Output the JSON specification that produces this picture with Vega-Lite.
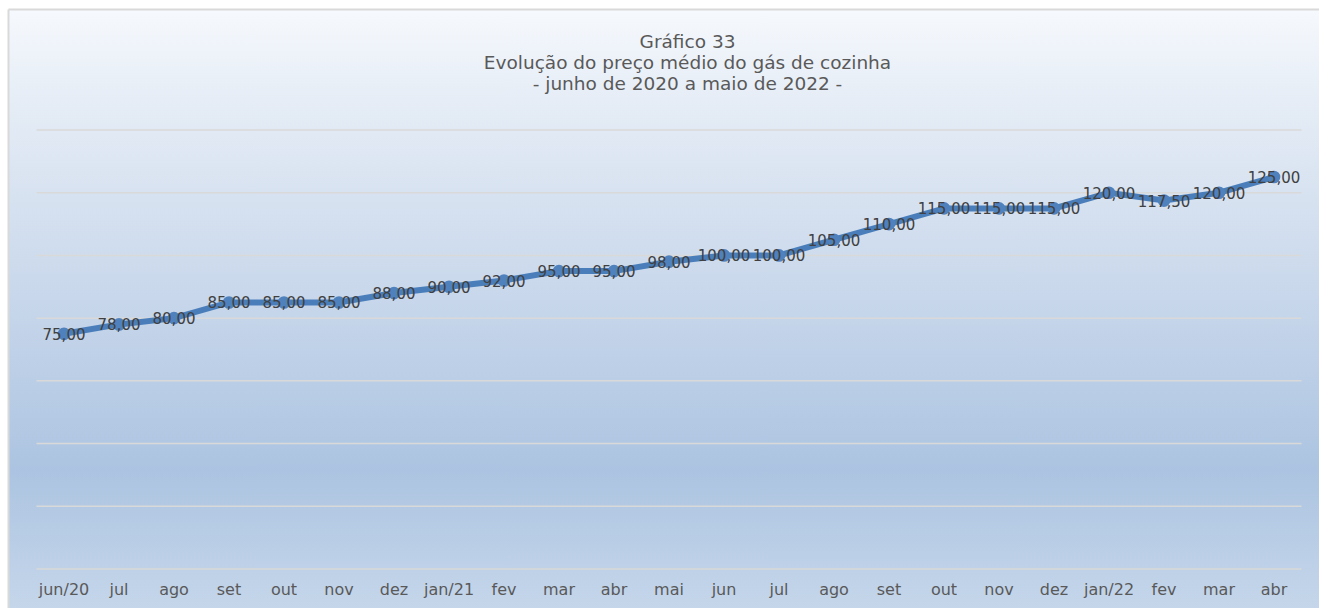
{
  "$schema": "https://vega.github.io/schema/vega-lite/v6.json",
  "width": 1311,
  "height": 599,
  "autosize": {"type": "none"},
  "padding": {"left": 8, "top": 9, "right": 0, "bottom": 0},
  "background": "white",
  "config": {
    "locale": {"number": {"decimal": ",", "thousands": ".", "grouping": [3], "currency": ["R$", ""]}},
    "font": "DejaVu Sans",
    "view": {
      "stroke": null,
      "fill": {
        "gradient": "linear",
        "x1": 0, "y1": 0, "x2": 0, "y2": 1,
        "stops": [
          {"offset": 0, "color": "#f6f9fd"},
          {"offset": 0.15, "color": "#e6edf6"},
          {"offset": 0.48, "color": "#c8d7eb"},
          {"offset": 0.77, "color": "#acc4e1"},
          {"offset": 1, "color": "#c5d6ea"}
        ]
      }
    }
  },
  "title": {
    "text": ["Gráfico 33", "Evolução do preço médio do gás de cozinha", "- junho de 2020 a maio de 2022 -"],
    "fontSize": 18.5,
    "fontWeight": "normal",
    "color": "#595959",
    "lineHeight": 21,
    "anchor": "middle",
    "frame": "group",
    "baseline": "top",
    "offset": -84,
    "dx": 24
  },
  "datasets": {
    "precos": [
      {"mes": "jun/20", "preco": 75},
      {"mes": "jul/20", "preco": 78},
      {"mes": "ago/20", "preco": 80},
      {"mes": "set/20", "preco": 85},
      {"mes": "out/20", "preco": 85},
      {"mes": "nov/20", "preco": 85},
      {"mes": "dez/20", "preco": 88},
      {"mes": "jan/21", "preco": 90},
      {"mes": "fev/21", "preco": 92},
      {"mes": "mar/21", "preco": 95},
      {"mes": "abr/21", "preco": 95},
      {"mes": "mai/21", "preco": 98},
      {"mes": "jun/21", "preco": 100},
      {"mes": "jul/21", "preco": 100},
      {"mes": "ago/21", "preco": 105},
      {"mes": "set/21", "preco": 110},
      {"mes": "out/21", "preco": 115},
      {"mes": "nov/21", "preco": 115},
      {"mes": "dez/21", "preco": 115},
      {"mes": "jan/22", "preco": 120},
      {"mes": "fev/22", "preco": 117.5},
      {"mes": "mar/22", "preco": 120},
      {"mes": "abr/22", "preco": 125}
    ],
    "grade": [
      {"v": 0, "de": "jun/20", "ate": "abr/22"},
      {"v": 20, "de": "jun/20", "ate": "abr/22"},
      {"v": 40, "de": "jun/20", "ate": "abr/22"},
      {"v": 60, "de": "jun/20", "ate": "abr/22"},
      {"v": 80, "de": "jun/20", "ate": "abr/22"},
      {"v": 100, "de": "jun/20", "ate": "abr/22"},
      {"v": 120, "de": "jun/20", "ate": "abr/22"},
      {"v": 140, "de": "jun/20", "ate": "abr/22"}
    ]
  },
  "encoding": {
    "x": {
      "field": "mes",
      "type": "nominal",
      "sort": null,
      "scale": {
        "domain": ["jun/20", "jul/20", "ago/20", "set/20", "out/20", "nov/20", "dez/20", "jan/21", "fev/21", "mar/21", "abr/21", "mai/21", "jun/21", "jul/21", "ago/21", "set/21", "out/21", "nov/21", "dez/21", "jan/22", "fev/22", "mar/22", "abr/22"],
        "paddingInner": 0,
        "paddingOuter": 0.41818,
        "align": 0.6196
      },
      "axis": {
        "title": null,
        "orient": "bottom",
        "offset": -13.5,
        "labelPadding": 0,
        "labelBaseline": "alphabetic",
        "labelAngle": 0,
        "labelFontSize": 16,
        "labelColor": "#595959",
        "labelExpr": "indexof(['jun/20','jan/21','jan/22'], datum.value) >= 0 ? datum.value : slice(datum.value, 0, 3)",
        "ticks": false,
        "domain": false,
        "grid": false
      }
    },
    "y": {
      "field": "preco",
      "type": "quantitative",
      "scale": {"domain": [-12.44, 178.59], "nice": false, "zero": false},
      "axis": {
        "title": null,
        "orient": "left",
        "labels": false,
        "ticks": false,
        "grid": false,
        "domain": true,
        "domainColor": "#d9d9d9",
        "domainWidth": 2
      }
    }
  },
  "resolve": {"axis": {"x": "independent"}},
  "layer": [
    {
      "data": {"name": "grade"},
      "mark": {"type": "rule", "color": "#d9d9d9", "strokeWidth": 1.5},
      "encoding": {
        "x": {
          "field": "de",
          "type": "nominal",
          "sort": null,
          "bandPosition": 0,
          "axis": {
            "title": null,
            "orient": "top",
            "labels": false,
            "ticks": false,
            "grid": false,
            "domain": true,
            "domainColor": "#d9d9d9",
            "domainWidth": 2
          }
        },
        "x2": {"field": "ate", "bandPosition": 1},
        "y": {"field": "v", "type": "quantitative"}
      }
    },
    {
      "data": {"name": "precos"},
      "mark": {"type": "line", "color": "#4a7ebb", "strokeWidth": 6}
    },
    {
      "data": {"name": "precos"},
      "mark": {"type": "point", "filled": true, "opacity": 1, "color": "#4f81bd", "size": 160},
      "encoding": {
        "x": {"field": "mes", "type": "nominal", "sort": null, "axis": null}
      }
    },
    {
      "data": {"name": "precos"},
      "mark": {"type": "text", "fontSize": 15, "color": "#404040", "align": "center", "baseline": "middle", "dy": 1},
      "encoding": {
        "x": {"field": "mes", "type": "nominal", "sort": null, "axis": null},
        "text": {"field": "preco", "type": "quantitative", "format": ".2f"}
      }
    }
  ]
}
